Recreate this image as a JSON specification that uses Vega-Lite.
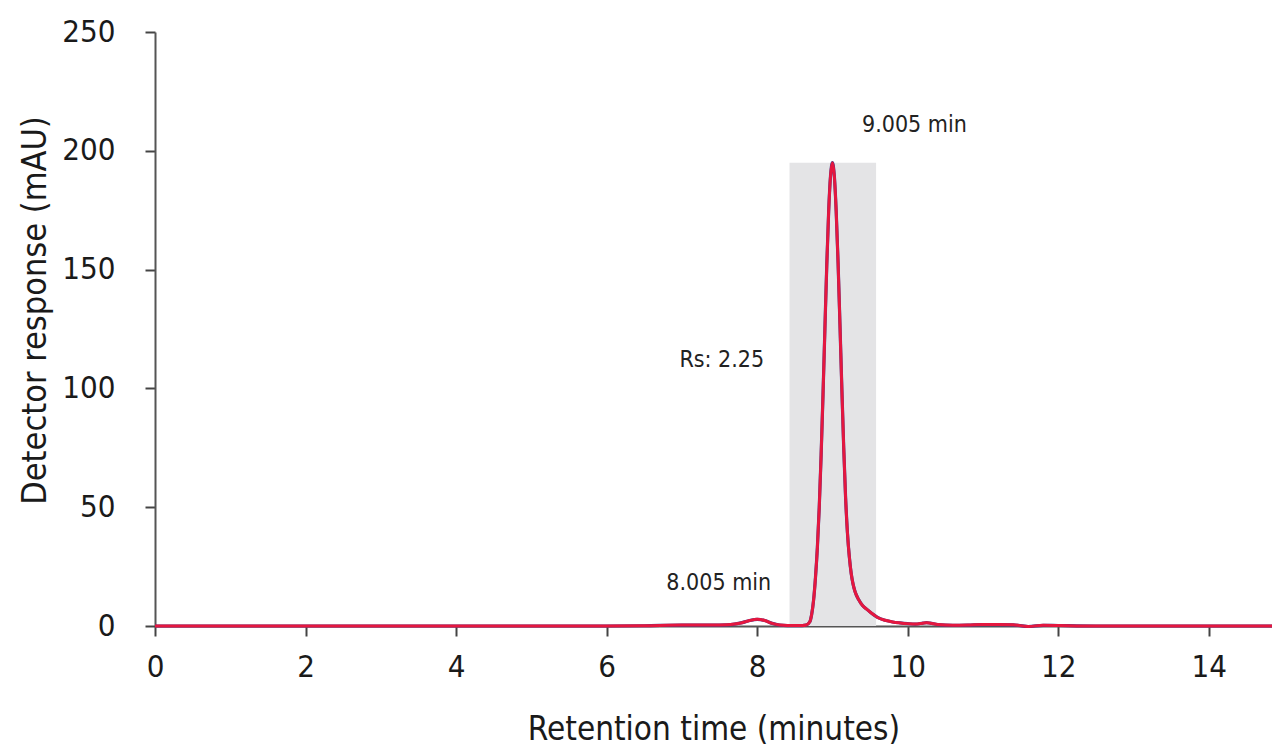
{
  "$schema": "https://vega.github.io/schema/vega-lite/v6.json",
  "width": 1117,
  "height": 594,
  "autosize": {"type": "none"},
  "padding": {"left": 155, "top": 32, "right": 0, "bottom": 120},
  "background": "white",
  "config": {"view": {"stroke": null}, "font": "DejaVu Sans Condensed, Roboto, sans-serif"},
  "datasets": {
    "trace": [
      {"t": 0, "v": 0}, {"t": 2, "v": 0}, {"t": 4, "v": 0}, {"t": 6, "v": 0},
      {"t": 6.5, "v": 0.1}, {"t": 7.0, "v": 0.4}, {"t": 7.4, "v": 0.4}, {"t": 7.6, "v": 0.5},
      {"t": 7.7, "v": 0.8}, {"t": 7.8, "v": 1.4}, {"t": 7.9, "v": 2.3}, {"t": 8.0, "v": 2.8},
      {"t": 8.1, "v": 2.3}, {"t": 8.2, "v": 1.1}, {"t": 8.3, "v": 0.4}, {"t": 8.4, "v": 0.2},
      {"t": 8.5, "v": 0.2}, {"t": 8.6, "v": 0.2}, {"t": 8.65, "v": 0.4}, {"t": 8.7, "v": 1.8},
      {"t": 8.725, "v": 5}, {"t": 8.75, "v": 11}, {"t": 8.775, "v": 20.5}, {"t": 8.8, "v": 33},
      {"t": 8.825, "v": 50}, {"t": 8.85, "v": 72}, {"t": 8.875, "v": 97.5}, {"t": 8.9, "v": 125},
      {"t": 8.925, "v": 152}, {"t": 8.95, "v": 174.5}, {"t": 8.975, "v": 189.5}, {"t": 9.0, "v": 195},
      {"t": 9.025, "v": 189.5}, {"t": 9.05, "v": 174.5}, {"t": 9.075, "v": 153}, {"t": 9.1, "v": 127},
      {"t": 9.125, "v": 100}, {"t": 9.15, "v": 75}, {"t": 9.175, "v": 54}, {"t": 9.2, "v": 39},
      {"t": 9.225, "v": 29}, {"t": 9.25, "v": 22}, {"t": 9.275, "v": 17.5}, {"t": 9.3, "v": 14.5},
      {"t": 9.35, "v": 11}, {"t": 9.4, "v": 8.6}, {"t": 9.45, "v": 7.2}, {"t": 9.5, "v": 5.9},
      {"t": 9.55, "v": 4.7}, {"t": 9.6, "v": 3.6}, {"t": 9.7, "v": 2.4}, {"t": 9.8, "v": 1.7},
      {"t": 9.9, "v": 1.3}, {"t": 10.0, "v": 1.0}, {"t": 10.1, "v": 0.8}, {"t": 10.2, "v": 1.2},
      {"t": 10.25, "v": 1.4}, {"t": 10.3, "v": 1.2}, {"t": 10.4, "v": 0.6}, {"t": 10.6, "v": 0.3},
      {"t": 10.8, "v": 0.4}, {"t": 11.0, "v": 0.6}, {"t": 11.2, "v": 0.6}, {"t": 11.4, "v": 0.5},
      {"t": 11.6, "v": -0.2}, {"t": 11.8, "v": 0.3}, {"t": 12.0, "v": 0.2}, {"t": 12.5, "v": 0},
      {"t": 13, "v": 0}, {"t": 14, "v": 0}, {"t": 14.84, "v": 0}
    ],
    "band": [{"start": 8.43, "end": 9.58, "low": 0, "high": 195}],
    "notes": [
      {"t": 10.09, "v": 211, "label": "9.005 min"},
      {"t": 7.53, "v": 112, "label": "Rs: 2.25"},
      {"t": 7.49, "v": 18.1, "label": "8.005 min"}
    ]
  },
  "layer": [
    {
      "data": {"name": "band"},
      "mark": {"type": "rect", "color": "#e4e4e6"},
      "encoding": {
        "x": {"field": "start", "type": "quantitative",
          "scale": {"domain": [0, 14.84], "nice": false, "zero": false},
          "axis": {
            "values": [0, 2, 4, 6, 8, 10, 12, 14],
            "format": "d",
            "labelFlush": false,
            "grid": false,
            "title": "Retention time (minutes)",
            "domainColor": "#555", "domainWidth": 2,
            "tickColor": "#444", "tickWidth": 2, "tickSize": 10,
            "labelFontSize": 31, "labelColor": "#1a1a1a", "labelPadding": 16,
            "titleFontWeight": "normal",
            "titleFontSize": 33, "titleColor": "#1a1a1a",
            "titleY": 103, "titleBaseline": "middle"
          }},
        "x2": {"field": "end"},
        "y": {"field": "low", "type": "quantitative",
          "scale": {"domain": [0, 250], "nice": false},
          "axis": {
            "values": [0, 50, 100, 150, 200, 250],
            "grid": false,
            "title": "Detector response (mAU)",
            "domainColor": "#555", "domainWidth": 2,
            "tickColor": "#444", "tickWidth": 2, "tickSize": 10,
            "labelFontSize": 31, "labelColor": "#1a1a1a", "labelPadding": 30,
            "titleFontWeight": "normal",
            "titleFontSize": 34, "titleColor": "#1a1a1a",
            "titleX": -120, "titleY": 278, "titleAlign": "center", "titleBaseline": "middle"
          }},
        "y2": {"field": "high"}
      }
    },
    {
      "data": {"name": "trace"},
      "mark": {"type": "line", "color": "#3b3f8f", "strokeWidth": 3.2, "interpolate": "monotone"},
      "encoding": {
        "x": {"field": "t", "type": "quantitative"},
        "y": {"field": "v", "type": "quantitative"}
      }
    },
    {
      "data": {"name": "trace"},
      "mark": {"type": "line", "color": "#e5173f", "strokeWidth": 3, "interpolate": "monotone"},
      "encoding": {
        "x": {"field": "t", "type": "quantitative"},
        "y": {"field": "v", "type": "quantitative"}
      }
    },
    {
      "data": {"name": "notes"},
      "mark": {"type": "text", "fontSize": 23, "color": "#222", "align": "center", "baseline": "middle"},
      "encoding": {
        "x": {"field": "t", "type": "quantitative"},
        "y": {"field": "v", "type": "quantitative"},
        "text": {"field": "label"}
      }
    }
  ]
}
